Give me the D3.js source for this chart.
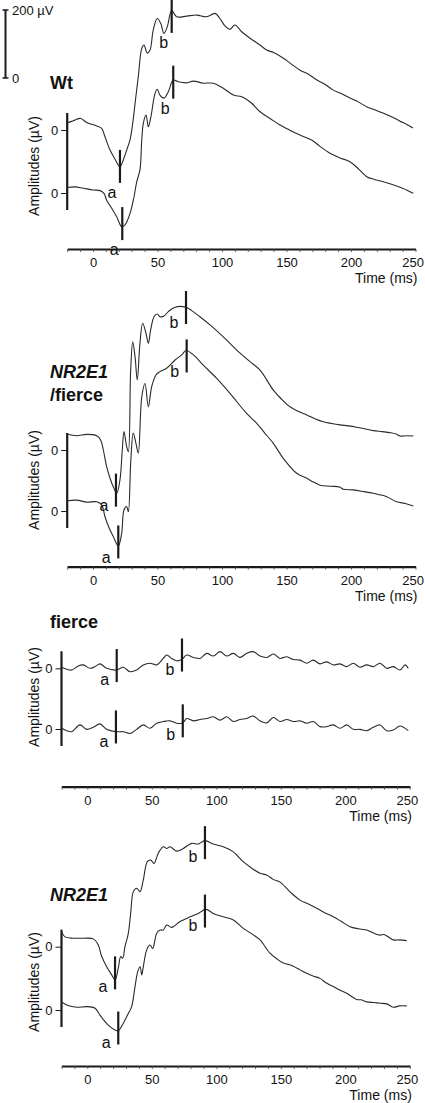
<!DOCTYPE html>
<html><head><meta charset="utf-8">
<script src="https://cdn.jsdelivr.net/npm/d3@7"></script>
<style>body{margin:0;background:#fff}svg{display:block}text{font-family:"Liberation Sans",Arial,sans-serif;fill:#111}</style>
</head><body><svg id="c" width="425" height="1103"></svg>
<script>
// ---------- data ----------
const timeTicks = [0, 50, 100, 150, 200, 250];
const minorTicks = d3.range(-20, 251, 10);
const scaleBarValues = [0, 200];

const panelTitles = [["Wt"], ["NR2E1", "/fierce"], ["fierce"], ["NR2E1"]];
const titleItalic = [[false], [true, false], [false], [true]];

// [time ms, amplitude µV] — Wt
const wtUpper = [[-20,21],[-15.3,27],[-9.5,34],[-4.9,22],[2.9,12],[6.7,5],[9.3,-20],[13.2,-59],[17.1,-86],[20.9,-108],[23.5,-88],[26.1,-59],[28.7,-29],[30.8,20],[32.6,78],[35.1,157],[37.8,240],[39.5,250],[42.1,226],[44.2,235],[46.7,294],[49.8,328],[52.5,314],[55,284],[57.6,304],[61,351],[64.9,333],[72.6,335],[80.4,338],[88.1,333],[94.6,343],[98.4,328],[102.3,306],[106.2,296],[110,309],[115.3,289],[121.7,270],[129.5,250],[134.6,235],[140,228],[147.3,212],[153,196],[160.5,176],[167,164],[173.6,147],[180,134],[186,118],[192,108],[199.2,94],[206,82],[212.4,68],[218,60],[224.8,50],[231,40],[238,26],[243,17],[248,6]];
const wtLower = [[-20,16],[-14,18],[-7.5,14],[0.2,9],[5.4,7],[8.5,-1],[10.6,-21],[14.5,-45],[18.4,-70],[22.2,-99],[24.8,-94],[28.7,-60],[31.8,-11],[33.9,33],[36.4,68],[37.8,156],[39,205],[41.1,229],[42.9,195],[44.7,220],[48.1,293],[49.8,305],[51.9,288],[55,279],[58.4,298],[62.2,332],[66.1,327],[72.6,324],[77.8,329],[85.5,323],[93.3,323],[101,308],[108.8,288],[115.3,283],[123,264],[129.5,239],[137,220],[145,200],[151,188],[156.6,177],[163,166],[169.5,156],[176,137],[183.7,117],[191,104],[199.2,92],[206,70],[212.2,48],[218,40],[225,33],[232,25],[240,14],[248.3,-1]];
const wtMarkers = [["a",0,20.9,-107],["b",0,61,334],["a",1,22.7,-90],["b",1,62.2,326]];

// NR2E1/fierce
const nfUpper = [[-20,47],[-12.6,42],[-4.9,46],[2.9,42],[6,29],[8,0],[10.6,-49],[13.2,-83],[15.7,-108],[18.4,-127],[20.9,-88],[22.7,0],[24,54],[26.1,10],[27.4,-5],[29.2,235],[30.8,318],[32.6,274],[34.3,206],[36.4,314],[38.5,373],[41.1,343],[42.9,314],[44.7,353],[47.3,392],[49.8,400],[51.9,392],[55,394],[58.4,407],[63.6,420],[71.3,421],[76.5,410],[82.9,392],[90.7,368],[101,333],[111.4,294],[121.7,260],[129.5,235],[139.8,176],[146,150],[152.7,127],[159,114],[165.7,103],[172,92],[178.5,83],[185,78],[191.5,74],[198,71],[204.4,67],[211,62],[217.3,57],[224,54],[230.2,51],[235,47],[238,41],[243,42],[248.3,41]];
const nfLower = [[-20,30],[-12.6,32],[-4.9,26],[2.9,27],[6.7,18],[9.3,-17],[12.6,-51],[15.7,-75],[19.6,-103],[22.2,-66],[24,3],[26.1,13],[27.4,-2],[29.2,140],[31.2,229],[33.3,199],[35.1,170],[37.8,336],[40.3,375],[42.9,307],[45.5,366],[48.8,400],[51.9,410],[57.1,420],[63.6,444],[68.8,459],[72.1,472],[77.8,459],[85.5,429],[95.9,390],[106.2,346],[119.1,287],[126.9,258],[133,230],[139.8,199],[147.5,155],[157.9,111],[165.7,96],[171,85],[176,76],[184,73],[191.5,70],[194,64],[201.8,62],[210,57],[217.3,52],[222,48],[227.7,42],[235.4,27],[242,22],[248.3,15]];
const nfMarkers = [["a",0,17.8,-118],["b",0,72.1,419],["a",1,19.6,-91],["b",1,72.6,456]];

// fierce
const fiUpper = [[-19.8,3],[-16,-3],[-12.1,-5],[-7,7],[-3.1,10],[2.1,0],[6,5],[9.8,13],[15,0],[22.8,-5],[27.9,3],[33.1,-10],[38.3,-5],[43.4,10],[48.6,15],[53.8,10],[58.9,29],[61.6,39],[65.4,29],[69.3,22],[73.2,26],[77.1,39],[82.2,32],[87.4,29],[92.6,44],[97.7,36],[102.9,49],[108.1,36],[113.2,44],[118.4,32],[123.6,44],[128.7,49],[133.9,36],[139.1,32],[144.2,42],[149.4,29],[154.6,34],[159.7,26],[164.9,24],[170.1,15],[175.2,24],[180.4,13],[185.6,19],[190.7,10],[195.9,13],[201.1,5],[206.2,15],[211.4,3],[216.6,10],[221.7,5],[226.9,15],[232.1,0],[237.2,5],[242.4,-5],[246.3,10],[248.8,0]];
const fiLower = [[-19.8,2],[-16,-5],[-12.1,-8],[-5.7,12],[-0.5,-1],[4.6,5],[9.8,15],[15,-1],[22.2,-8],[27.9,-8],[33.1,-13],[38.3,-1],[43.4,12],[48.6,2],[53.8,17],[58.9,22],[64.1,24],[69.3,17],[74,18],[77.1,31],[82.2,24],[87.4,28],[92.6,31],[97.7,36],[102.9,26],[108.1,36],[113.2,22],[118.4,28],[123.6,31],[128.7,38],[133.9,24],[139.1,18],[144.2,34],[149.4,22],[154.6,28],[159.7,22],[164.9,24],[170.1,17],[175.2,22],[180.4,7],[185.6,7],[190.7,12],[195.9,2],[201.1,12],[206.2,-1],[211.4,-1],[216.6,-5],[221.7,5],[226.9,12],[232.1,-5],[237.2,-3],[242.4,9],[248.8,-5]];
const fiMarkers = [["a",0,22.8,8],["b",0,73.4,39],["a",1,22.2,6],["b",1,74,24]];

// NR2E1
const nrUpper = [[-20,44],[-17.3,29],[-10.9,25],[-3.1,25],[4.7,23],[8.5,5],[11.2,-29],[15,-59],[18.9,-83],[21.5,-98],[24,-64],[25.9,-29],[27.4,-34],[29.2,0],[31.8,39],[33.6,98],[35.7,162],[38.3,172],[40.9,162],[43.4,196],[46.5,250],[49.1,255],[51.7,245],[55,275],[58.9,294],[61.6,289],[64.1,294],[69.3,281],[74.4,289],[80.9,304],[86,302],[91.2,312],[97.7,302],[105.4,294],[113.2,279],[120.9,250],[127,232],[133.9,216],[139.1,211],[144,198],[149.4,190],[157.2,161],[164.9,137],[171,126],[177.8,113],[184,100],[190.7,88],[197,74],[203.6,59],[210,53],[216.6,49],[222,40],[226.9,34],[230,36],[233.3,29],[237.2,20],[242,20],[247.6,18]];
const nrLower = [[-20,24],[-16,15],[-8.2,8],[-0.5,10],[6,5],[9.8,-15],[13.7,-34],[17.6,-49],[21.5,-59],[24,-61],[27.9,-39],[31.8,-10],[34.4,10],[37,69],[39.1,113],[40.9,127],[42.2,103],[43.4,127],[46,176],[48.6,191],[50.7,181],[53.8,226],[56.4,235],[58.9,235],[61.6,250],[65.4,243],[71.9,260],[79.7,274],[86,284],[92,296],[97.7,284],[105.4,274],[113.2,265],[120.9,240],[128.7,221],[133.9,206],[141.6,167],[147,150],[151.9,138],[155,135],[159.7,129],[165,118],[170.1,108],[175,100],[180.4,93],[185,80],[190.7,69],[196,58],[201.1,49],[208.8,31],[212,30],[216.6,24],[222,22],[226.9,20],[232.1,18],[237.2,8],[242,12],[247.6,12]];
const nrMarkers = [["a",0,21.5,-77],["b",0,91.2,306],["a",1,24,-53],["b",1,91.2,291]];

const panelTraces = [[wtUpper, wtLower], [nfUpper, nfLower], [fiUpper, fiLower], [nrUpper, nrLower]];
const panelMarkers = [wtMarkers, nfMarkers, fiMarkers, nrMarkers];

// ---------- layout ----------
const layout = [
  {x0: 67.2, x1: 415.5, axisY: 249, zeros: [130, 193], titleY: [83], ampY: 166, lab: [-8, 26]},
  {x0: 67.2, x1: 415.5, axisY: 566.7, zeros: [450, 511], titleY: [372, 395], ampY: 480, lab: [-12, 15]},
  {x0: 61.5, x1: 409.8, axisY: 786.7, zeros: [668.3, 729], titleY: [622], ampY: 697, lab: [-12, 14]},
  {x0: 61.5, x1: 409.8, axisY: 1066, zeros: [946.7, 1010], titleY: [895], ampY: 982, lab: [-12, 14]}
];
const pxPer200 = 68;
const svg = d3.select("#c");
const ink = "#1a1a1a";

// scale bar
const sb = d3.scaleLinear().domain([0, 200]).range([78, 10]);
const sbg = svg.append("g");
sbg.append("line").attr("x1", 5.5).attr("x2", 5.5).attr("y1", sb(0)).attr("y2", sb(200)).attr("stroke", ink).attr("stroke-width", 2);
sbg.selectAll("line.cap").data(scaleBarValues).join("line").attr("class", "cap")
  .attr("x1", 2.5).attr("x2", 8.5).attr("y1", d => sb(d)).attr("y2", d => sb(d)).attr("stroke", ink).attr("stroke-width", 1.5);
sbg.selectAll("text").data(scaleBarValues).join("text")
  .attr("x", 12).attr("y", d => sb(d)).attr("dy", "0.35em").attr("font-size", 13)
  .text(d => d === 200 ? "200 µV" : "0");

layout.forEach((L, pi) => {
  const g = svg.append("g");
  const x = d3.scaleLinear().domain([-20, 250]).range([L.x0, L.x1]);
  const ys = L.zeros.map(z => d3.scaleLinear().domain([0, 200]).range([z, z - pxPer200]));

  // x axis
  const ax = g.append("g").attr("transform", `translate(0,${L.axisY})`)
    .call(d3.axisBottom(x).tickValues(minorTicks).tickSize(3).tickSizeOuter(0).tickPadding(6)
      .tickFormat(d => timeTicks.includes(d) ? d : ""));
  ax.select(".domain").attr("stroke", ink).attr("stroke-width", 2.2);
  ax.selectAll(".tick line").attr("stroke", "#444").attr("stroke-width", 0.8);
  ax.selectAll(".tick text").attr("font-size", 13).attr("fill", ink)
    .attr("font-family", '"Liberation Sans",Arial,sans-serif')
    .attr("text-anchor", d => d === 250 ? "end" : "middle")
    .attr("dx", d => d === 250 ? 8 : 0);
  g.append("text").attr("x", L.x1 + 2).attr("y", L.axisY + 29).attr("dy", "0.35em")
    .attr("text-anchor", "end").attr("font-size", 14).text("Time (ms)");

  // amplitude bar
  g.append("line").attr("x1", L.x0).attr("x2", L.x0)
    .attr("y1", L.zeros[0] - 17).attr("y2", L.zeros[1] + 17).attr("stroke", ink).attr("stroke-width", 2.2);
  ys.forEach(y => {
    const ya = g.append("g").attr("transform", `translate(${L.x0},0)`)
      .call(d3.axisLeft(y).tickValues([0]).tickSize(6).tickPadding(3));
    ya.select(".domain").remove();
    ya.selectAll(".tick line").attr("stroke", ink);
    ya.selectAll(".tick text").attr("font-size", 13).attr("fill", ink)
      .attr("font-family", '"Liberation Sans",Arial,sans-serif');
  });
  g.append("text").attr("transform", `translate(34,${L.ampY}) rotate(-90)`)
    .attr("text-anchor", "middle").attr("dy", "0.35em").attr("font-size", 14).text("Amplitudes (µV)");

  // titles
  panelTitles[pi].forEach((t, k) => {
    g.append("text").attr("x", 50).attr("y", L.titleY[k]).attr("dy", "0.35em")
      .attr("font-size", 18).attr("font-weight", "bold")
      .attr("font-style", titleItalic[pi][k] ? "italic" : "normal").text(t);
  });

  // traces
  panelTraces[pi].forEach((tr, k) => {
    const line = d3.line().x(d => x(d[0])).y(d => ys[k](d[1])).curve(d3.curveCatmullRom.alpha(0.5));
    g.append("path").datum(tr).attr("d", line).attr("fill", "none")
      .attr("stroke", "#2a2a2a").attr("stroke-width", 1.1);
  });

  // a / b markers
  panelMarkers[pi].forEach(m => {
    const [lab, k, t, v] = m;
    const cx = x(t), cy = ys[k](v);
    g.append("line").attr("x1", cx).attr("x2", cx).attr("y1", cy - 16.5).attr("y2", cy + 16.5)
      .attr("stroke", ink).attr("stroke-width", 2.2);
    g.append("text").attr("x", cx + L.lab[0]).attr("y", cy + L.lab[1]).attr("dy", "0.35em")
      .attr("text-anchor", "middle").attr("font-size", 16).text(lab);
  });
});
</script>
</body></html>
